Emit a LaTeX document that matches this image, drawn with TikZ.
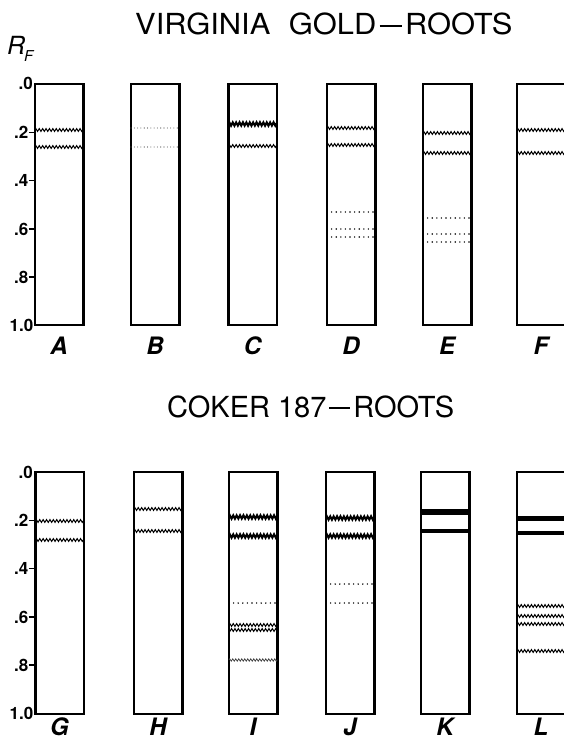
\documentclass[tikz,border=0pt]{standalone}
\usepackage{fontspec}
\setmainfont{TeX Gyre Heros}
\usetikzlibrary{decorations.pathmorphing}
\newcommand\bnd[3]{\draw[#1] (#2,#3) -- ++(48.5,0);}
\newcommand\ttldash{\hspace{3pt}\rule[8pt]{21pt}{2.4pt}\hspace{3pt}}
\begin{document}
\begin{tikzpicture}[x=1pt,y=-1pt,
  lanebox/.style={line width=2.7pt, line join=miter},
  zz/.style={line width=1pt, decorate, decoration={zigzag, segment length=3.4pt, amplitude=1.4pt}},
  zzm/.style={line width=1pt, decorate, decoration={zigzag, segment length=3.4pt, amplitude=1.4pt, mirror}},
  zzb/.style={line width=2pt, decorate, decoration={zigzag, segment length=3.4pt, amplitude=1.7pt}},
  zzl/.style={line width=0.8pt, black!75, decorate, decoration={zigzag, segment length=3pt, amplitude=1.1pt}},
  dotband/.style={line width=1.6pt, line cap=round, dash pattern=on 0pt off 4.6pt},
  fdot/.style={line width=1.1pt, line cap=round, dash pattern=on 0pt off 3.3pt, black!70},
  tick/.style={line width=1.3pt},
  ticklab/.style={font=\bfseries\fontsize{17}{17}\selectfont, anchor=base east, inner sep=0pt},
  lanelab/.style={font=\bfseries\itshape\fontsize{24}{24}\selectfont, anchor=base, inner sep=0pt},
  ttl/.style={font=\fontsize{29}{29}\selectfont, anchor=base west, inner sep=0pt}
]
\useasboundingbox (0,0) rectangle (564,738);
% titles
\node[ttl] (t1) at (135,35) {\scalebox{1.065}[1]{VIRGINIA\hspace{0.6em}GOLD\ttldash ROOTS}};
\node[ttl] (t2) at (167,417) {COKER 187\ttldash ROOTS};
\node[font=\itshape\fontsize{25}{25}\selectfont, anchor=base west, inner sep=0pt] (rf) at (7,55) {R};
\node[font=\itshape\fontsize{15}{15}\selectfont, anchor=base west, inner sep=0pt] (rfs) at (24,62) {F};
% axes labels
\foreach \yo [count=\p] in {84,472}{
  \node[ticklab] (z\p) at (33,\yo+6) {.0};
  \node[ticklab] (a\p) at (28.5,\yo+48.3+6) {.2};
  \node[ticklab] (b\p) at (28.5,\yo+96.6+6) {.4};
  \node[ticklab] (c\p) at (28.5,\yo+145+6) {.6};
  \node[ticklab] (d\p) at (28.5,\yo+193+6) {.8};
  \node[ticklab] (e\p) at (33.5,\yo+241+6) {1.0};
  \foreach \t in {48.3,96.6,145,193}{\draw[tick] (28.5,\yo+\t) -- (35,\yo+\t);}
}
% lanes top
\foreach \x/\l in {35/A,131/B,228.5/C,327/D,423/E,517/F}{
  \draw[lanebox] (\x,84) rectangle ++(48.5,241);
  \node[lanelab] (lab\l) at (\x+24,354) {\l};
}
% lanes bottom
\foreach \x/\l in {35.5/G,134/H,229/I,326/J,421/K,517/L}{
  \draw[lanebox] (\x,472) rectangle ++(48.5,242);
  \node[lanelab] (lab\l) at (\x+24,735.5) {\l};
}
% bands top
\bnd{zz}{35}{130}  \bnd{zz}{35}{147}
\bnd{fdot}{131}{128} \bnd{fdot}{131}{147}
\bnd{zzb}{228.5}{124} \bnd{zz}{228.5}{146}
\bnd{zz}{327}{128} \bnd{zz}{327}{145}
\bnd{dotband}{327}{212} \bnd{dotband}{327}{229} \bnd{dotband}{327}{237}
\bnd{zz}{423}{133} \bnd{zz}{423}{153}
\bnd{dotband}{423}{218} \bnd{dotband}{423}{234} \bnd{dotband}{423}{242}
\bnd{zz}{517}{130} \bnd{zz}{517}{153}
% bands bottom
\bnd{zz}{35.5}{521} \bnd{zz}{35.5}{540}
\bnd{zz}{134}{509} \bnd{zz}{134}{531}
\bnd{zzb}{229}{517} \bnd{zzb}{229}{536}
\bnd{dotband}{229}{603}
\bnd{zz}{229}{625} \bnd{zzm}{229}{630}
\bnd{zzl}{229}{660}
\bnd{zzb}{326}{518} \bnd{zzb}{326}{536}
\bnd{dotband}{326}{584} \bnd{dotband}{326}{603}
\draw[line width=6pt] (421,512) -- ++(48.5,0);
\draw[line width=4pt] (421,531) -- ++(48.5,0);
\draw[line width=5pt] (517,518) -- ++(48.5,0);
\draw[line width=4.5pt] (517,533) -- ++(48.5,0);
\bnd{zz}{517}{606} \bnd{zz}{517}{616} \bnd{zz}{517}{624} \bnd{zz}{517}{651}
\end{tikzpicture}
\end{document}
